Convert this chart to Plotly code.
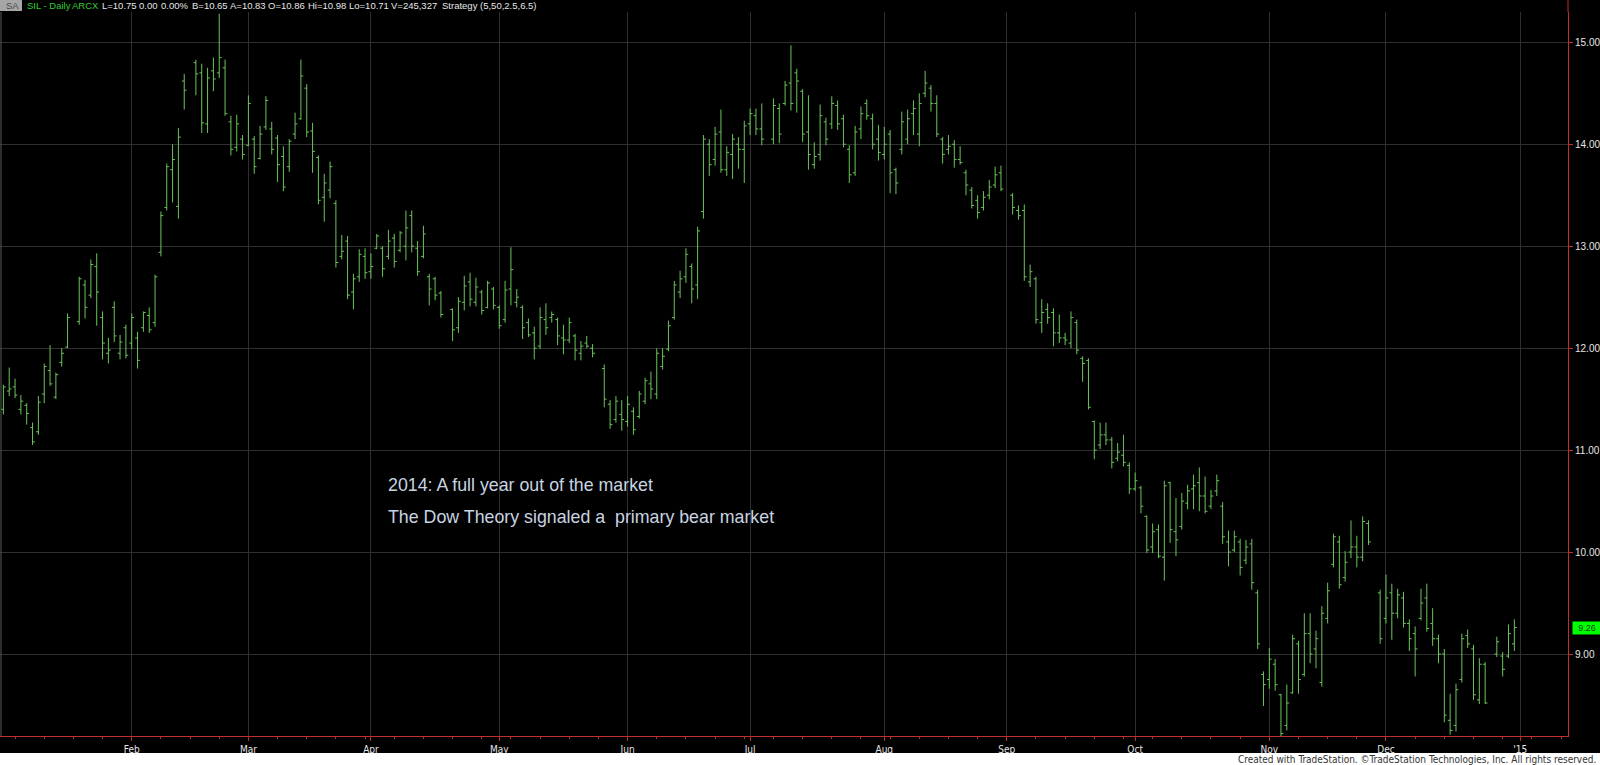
import pandas as pd
import plotly.graph_objects as go

# ---------------- data (SIL daily, 2014) ----------------
HOLIDAYS = ["2014-01-01", "2014-01-20", "2014-02-17", "2014-04-18", "2014-05-26",
            "2014-07-04", "2014-09-01", "2014-11-27", "2014-12-25"]

opens = [
    # Jan
    11.40, 11.58, 11.62, 11.40, 11.44, 11.22, 11.18, 11.55, 11.78, 11.52, 11.86, 12.01, 12.26, 12.62, 12.52, 12.80, 12.30, 11.95, 12.40, 11.95, 12.20,
    # Feb
    12.05, 12.10, 12.20, 12.32, 12.25, 12.94, 13.38, 13.75, 13.39, 14.62, 14.80, 14.70, 14.20, 14.72, 14.70, 14.75, 14.22, 13.97, 14.05,
    # Mar
    13.99, 14.05, 13.86, 14.17, 14.15, 14.06, 13.88, 13.78, 14.10, 14.25, 14.55, 14.13, 13.87, 13.48, 13.55, 13.42, 12.90, 13.05, 12.55, 12.70, 12.90,
    # Apr
    12.75, 12.98, 12.98, 12.90, 13.08, 12.96, 13.00, 13.30, 12.98, 12.90, 12.70, 12.68, 12.54, 12.38, 12.20, 12.45, 12.65, 12.45, 12.55, 12.40, 12.58,
    # May
    12.40, 12.28, 12.58, 12.45, 12.40, 12.25, 12.15, 12.02, 12.28, 12.30, 12.28, 12.10, 12.08, 12.12, 11.95, 12.05, 12.00, 11.80, 11.45, 11.30, 11.35,
    # Jun
    11.28, 11.38, 11.33, 11.48, 11.65, 11.55, 11.82, 11.99, 12.30, 12.55, 12.70, 12.80, 12.62, 13.34, 14.00, 13.85, 14.12, 13.75, 13.90, 14.00, 13.95,
    # Jul
    14.20, 14.28, 14.15, 14.05, 14.35, 14.40, 14.60, 14.70, 14.52, 14.12, 13.80, 13.90, 14.22, 14.20, 14.38, 14.25, 13.95, 13.72, 14.15, 14.40, 14.25, 14.05,
    # Aug
    13.90, 14.10, 13.75, 13.95, 14.05, 14.30, 14.10, 14.50, 14.55, 14.40, 14.05, 13.95, 14.00, 13.85, 13.72, 13.55, 13.45, 13.38, 13.50, 13.60, 13.72,
    # Sep
    13.50, 13.35, 13.35, 12.65, 12.68, 12.25, 12.38, 12.35, 12.15, 12.10, 12.05, 12.25, 11.90, 11.88, 11.28, 11.05, 11.15, 11.10, 10.92, 10.95, 10.85,
    # Oct
    10.62, 10.63, 10.35, 10.05, 10.22, 9.95, 10.68, 10.20, 10.25, 10.48, 10.62, 10.68, 10.55, 10.45, 10.60, 10.45, 10.10, 10.02, 10.10, 9.92, 10.08, 9.60, 8.80,
    # Nov
    8.75, 8.90, 8.60, 8.30, 8.62, 9.10, 8.80, 9.20, 9.05, 8.72, 9.35, 9.88, 10.10, 9.75, 10.00, 10.05, 9.95, 10.28, 9.60,
    # Dec
    9.35, 9.60, 9.40, 9.55, 9.30, 9.20, 9.35, 9.55, 9.30, 9.15, 9.00, 8.35, 8.30, 8.75, 9.18, 9.05, 8.55, 8.90, 9.00, 8.98, 8.98, 9.10,
]

highs = [
    11.64, 11.81, 11.70, 11.54, 11.46, 11.27, 11.53, 11.85, 12.03, 11.76, 12.00, 12.34, 12.70, 12.67, 12.87, 12.93, 12.36, 12.10, 12.46, 12.13, 12.23,
    12.34, 12.16, 12.36, 12.40, 12.72, 13.34, 13.81, 14.00, 14.16, 14.69, 14.83, 14.79, 14.75, 14.85, 15.28, 14.83, 14.28, 14.29, 14.09,
    14.48, 14.08, 14.18, 14.47, 14.22, 14.09, 13.98, 14.05, 14.31, 14.83, 14.59, 14.21, 13.89, 13.71, 13.83, 13.45, 13.11, 13.10, 12.73, 12.97, 12.98,
    12.93, 13.12, 13.00, 13.16, 13.12, 13.15, 13.35, 13.35, 13.05, 13.20, 12.73, 12.70, 12.56, 12.39, 12.50, 12.71, 12.74, 12.69, 12.57, 12.66, 12.60,
    12.42, 12.66, 12.99, 12.58, 12.42, 12.29, 12.21, 12.40, 12.44, 12.36, 12.30, 12.23, 12.30, 12.14, 12.07, 12.12, 12.04, 11.84, 11.49, 11.53, 11.49,
    11.53, 11.42, 11.58, 11.71, 11.77, 12.00, 12.00, 12.27, 12.66, 12.76, 12.98, 12.83, 13.19, 14.09, 14.05, 14.17, 14.34, 13.98, 14.10, 14.07, 14.23,
    14.35, 14.35, 14.40, 14.45, 14.40, 14.62, 14.97, 14.74, 14.54, 14.48, 14.02, 14.39, 14.26, 14.47, 14.43, 14.29, 13.99, 14.18, 14.37, 14.44, 14.30, 14.19,
    14.17, 14.14, 13.77, 14.32, 14.34, 14.43, 14.50, 14.72, 14.58, 14.48, 14.07, 14.09, 14.04, 13.98, 13.75, 13.58, 13.50, 13.54, 13.65, 13.78, 13.79,
    13.52, 13.40, 13.41, 12.82, 12.70, 12.48, 12.44, 12.39, 12.33, 12.15, 12.36, 12.28, 11.92, 11.90, 11.29, 11.27, 11.27, 11.13, 11.07, 11.15, 10.88,
    10.78, 10.65, 10.36, 10.28, 10.27, 10.70, 10.69, 10.53, 10.58, 10.66, 10.76, 10.83, 10.74, 10.61, 10.76, 10.49, 10.21, 10.21, 10.13, 10.12, 10.13, 9.63, 8.83,
    9.06, 8.95, 8.61, 8.70, 9.19, 9.13, 9.40, 9.40, 9.23, 9.47, 9.70, 10.18, 10.16, 10.01, 10.31, 10.16, 10.35, 10.31, 9.63,
    9.78, 9.69, 9.64, 9.61, 9.34, 9.27, 9.64, 9.69, 9.45, 9.19, 9.05, 8.61, 8.71, 9.20, 9.24, 9.09, 8.96, 8.92, 9.17, 9.02, 9.29, 9.34,
]

lows = [
    11.35, 11.53, 11.51, 11.35, 11.25, 11.05, 11.15, 11.46, 11.63, 11.50, 11.82, 12.00, 12.23, 12.29, 12.49, 12.22, 11.89, 11.85, 12.06, 11.89, 11.90,
    11.99, 11.80, 12.16, 12.15, 12.21, 12.90, 13.35, 13.43, 13.27, 14.34, 14.48, 14.11, 14.11, 14.52, 14.65, 14.28, 13.89, 13.93, 13.85,
    13.98, 13.71, 13.85, 14.14, 13.90, 13.63, 13.54, 13.73, 14.05, 14.24, 14.07, 13.72, 13.41, 13.24, 13.47, 12.79, 12.87, 12.48, 12.38, 12.65, 12.68,
    12.68, 12.97, 12.70, 12.87, 12.79, 12.94, 12.86, 12.94, 12.71, 12.88, 12.42, 12.47, 12.30, 12.07, 12.15, 12.37, 12.41, 12.41, 12.33, 12.39, 12.38,
    12.19, 12.25, 12.42, 12.40, 12.09, 12.11, 11.89, 11.99, 12.13, 12.25, 12.03, 11.94, 12.05, 11.88, 11.88, 12.00, 11.91, 11.42, 11.21, 11.27, 11.19,
    11.23, 11.15, 11.31, 11.45, 11.50, 11.50, 11.79, 11.97, 12.28, 12.49, 12.64, 12.44, 12.48, 13.27, 13.69, 13.79, 13.72, 13.69, 13.66, 13.76, 13.62,
    14.09, 14.09, 13.99, 14.00, 14.01, 14.38, 14.33, 14.31, 14.02, 13.75, 13.76, 13.84, 13.99, 14.15, 14.14, 13.97, 13.62, 13.69, 14.05, 14.24, 13.95, 13.84,
    13.85, 13.52, 13.51, 13.90, 14.00, 14.09, 13.98, 14.46, 14.32, 14.07, 13.81, 13.90, 13.77, 13.80, 13.50, 13.37, 13.27, 13.35, 13.46, 13.57, 13.54,
    13.31, 13.26, 12.66, 12.60, 12.24, 12.15, 12.24, 12.02, 12.05, 12.03, 12.00, 11.94, 11.67, 11.40, 10.91, 11.01, 11.05, 10.82, 10.89, 10.84, 10.57,
    10.60, 10.38, 9.99, 9.99, 9.94, 9.72, 10.09, 9.96, 10.22, 10.42, 10.42, 10.40, 10.38, 10.42, 10.55, 10.08, 9.86, 10.00, 9.77, 9.88, 9.63, 9.05, 8.49,
    8.66, 8.64, 8.19, 8.25, 8.61, 8.61, 8.78, 8.91, 8.86, 8.68, 9.30, 9.85, 9.64, 9.71, 9.94, 9.85, 9.91, 10.07, 9.10,
    9.30, 9.14, 9.35, 9.26, 9.03, 8.78, 9.33, 9.22, 9.08, 8.91, 8.33, 8.21, 8.24, 8.72, 9.06, 8.55, 8.51, 8.51, 8.97, 8.78, 8.96, 9.03,
]

closes = [
    11.62, 11.60, 11.54, 11.48, 11.36, 11.08, 11.47, 11.82, 11.65, 11.74, 11.95, 12.30, 12.68, 12.40, 12.82, 12.55, 12.05, 11.98, 12.12, 12.06, 11.93,
    12.30, 11.88, 12.35, 12.18, 12.70, 13.30, 13.78, 13.85, 14.07, 14.53, 14.69, 14.21, 14.65, 14.64, 14.85, 14.30, 13.95, 14.20, 13.90,
    14.40, 13.78, 14.10, 14.43, 13.95, 13.80, 13.58, 14.03, 14.20, 14.67, 14.12, 13.93, 13.45, 13.62, 13.78, 12.84, 12.95, 12.52, 12.68, 12.92, 12.74,
    12.80, 13.10, 12.78, 13.05, 12.85, 13.13, 13.18, 13.00, 12.75, 13.12, 12.58, 12.52, 12.33, 12.18, 12.46, 12.61, 12.48, 12.60, 12.37, 12.64, 12.42,
    12.22, 12.57, 12.77, 12.50, 12.20, 12.13, 12.00, 12.30, 12.20, 12.33, 12.12, 12.08, 12.25, 11.98, 12.02, 12.02, 11.95, 11.50, 11.25, 11.48, 11.30,
    11.45, 11.20, 11.55, 11.68, 11.60, 11.95, 11.92, 12.22, 12.62, 12.68, 12.92, 12.58, 13.15, 14.05, 13.80, 14.10, 13.75, 13.92, 14.05, 13.95, 14.18,
    14.30, 14.15, 14.05, 14.38, 14.10, 14.58, 14.40, 14.62, 14.10, 13.90, 13.88, 14.28, 14.05, 14.40, 14.20, 14.00, 13.70, 14.12, 14.30, 14.28, 14.00, 13.92,
    14.00, 13.72, 13.62, 14.22, 14.25, 14.35, 14.40, 14.60, 14.40, 14.10, 13.90, 13.98, 13.85, 13.82, 13.60, 13.40, 13.33, 13.48, 13.58, 13.70, 13.56,
    13.38, 13.30, 12.70, 12.75, 12.28, 12.35, 12.30, 12.15, 12.10, 12.08, 12.30, 11.98, 11.85, 11.42, 11.00, 11.15, 11.10, 10.88, 10.98, 10.88, 10.62,
    10.70, 10.45, 10.02, 10.20, 9.96, 10.65, 10.22, 10.12, 10.50, 10.60, 10.65, 10.55, 10.40, 10.55, 10.70, 10.15, 10.00, 10.15, 9.85, 10.05, 9.70, 9.10, 8.70,
    8.95, 8.70, 8.22, 8.52, 9.15, 8.75, 9.20, 9.00, 9.15, 9.40, 9.62, 10.15, 9.68, 9.90, 10.05, 9.95, 10.30, 10.10, 9.15,
    9.55, 9.40, 9.58, 9.30, 9.15, 9.05, 9.50, 9.25, 9.15, 9.00, 8.40, 8.25, 8.65, 9.15, 9.10, 8.60, 8.90, 8.52, 9.12, 8.85, 9.20, 9.26,
]

MONTH_TICKS = ["2014-02-03", "2014-03-03", "2014-04-01", "2014-05-01", "2014-06-02", "2014-07-01",
               "2014-08-01", "2014-09-01", "2014-10-01", "2014-11-03", "2014-12-01", "2015-01-01"]
MONTH_LABELS = ["Feb", "Mar", "Apr", "May", "Jun", "Jul", "Aug", "Sep", "Oct", "Nov", "Dec", "'15"]
PRICE_TICKS = [9, 10, 11, 12, 13, 14, 15]
LAST_PRICE = 9.26

HEADER_GREEN = [("SIL - Daily", 25), ("ARCX", 70)]
HEADER_WHITE = [("L=10.75", 100), ("0.00", 137), ("0.00%", 159), ("B=10.65", 190), ("A=10.83", 228),
                ("O=10.86", 266), ("Hi=10.98", 306), ("Lo=10.71", 347), ("V=245,327", 389),
                ("Strategy (5,50,2.5,6.5)", 440)]

dates = [d for d in pd.bdate_range("2014-01-01", "2014-12-31") if d.strftime("%Y-%m-%d") not in HOLIDAYS]
assert len(dates) == len(opens) == len(highs) == len(lows) == len(closes)
mondays = [d.strftime("%Y-%m-%d") for d in pd.date_range("2014-01-06", "2015-01-12", freq="W-MON")]

# ---------------- layout helpers ----------------
W, H = 1600, 765
PL, PR, PT, PB = 0, 1568, 12, 736
def px(x):
    return (x - PL) / (PR - PL)
def py(y):
    return (PB - y) / (PB - PT)

GREEN = "#6cc45c"
RED = "#c0302a"
GRID = "#2f2f2f"
NARROW = "Liberation Sans Narrow, DejaVu Sans Condensed, Liberation Sans, Arial"
SANS = "Liberation Sans, Arial, sans-serif"

fig = go.Figure(go.Ohlc(
    x=dates, open=opens, high=highs, low=lows, close=closes,
    increasing=dict(line=dict(color=GREEN, width=1)),
    decreasing=dict(line=dict(color=GREEN, width=1)),
    tickwidth=0.4, hoverinfo="skip", showlegend=False,
))

fig.update_layout(
    width=W, height=H,
    margin=dict(l=PL, r=W - PR, t=PT, b=H - PB, pad=0),
    paper_bgcolor="black", plot_bgcolor="black",
    hovermode=False, showlegend=False,
    xaxis=dict(
        type="date",
        range=["2014-01-01 10:05", "2015-01-13 04:48"],
        rangebreaks=[dict(bounds=["sat", "mon"])],
        rangeslider=dict(visible=False),
        tickmode="array", tickvals=MONTH_TICKS, ticktext=MONTH_LABELS,
        showgrid=True, gridcolor=GRID, gridwidth=1,
        showline=True, linecolor=RED, linewidth=1,
        ticks="outside", ticklen=4, tickcolor=RED,
        tickfont=dict(family=NARROW, size=10, color="#e6e6e6"),
        minor=dict(tickmode="array", tickvals=mondays, ticks="outside", ticklen=2,
                   tickcolor=RED, showgrid=False),
        zeroline=False, fixedrange=True,
    ),
    yaxis=dict(
        side="right",
        range=[8.196, 15.297],
        tickmode="array", tickvals=PRICE_TICKS, tickformat=".2f",
        showgrid=True, gridcolor=GRID, gridwidth=1,
        showline=True, linecolor=RED, linewidth=1,
        ticks="outside", ticklen=4, tickcolor=RED,
        tickfont=dict(family=SANS, size=10, color="#e6e6e6"),
        zeroline=False, fixedrange=True,
    ),
)

shapes = [
    # right axis line extends into header band
    dict(type="line", xref="paper", yref="paper", x0=1, x1=1, y0=1, y1=py(0),
         line=dict(color=RED, width=1)),
    # left border
    dict(type="line", xref="paper", yref="paper", x0=px(1), x1=px(1), y0=0, y1=1,
         line=dict(color="#5a5a5a", width=1)),
    # "SA" box
    dict(type="rect", xref="paper", yref="paper", x0=px(0), x1=px(22), y0=py(11), y1=py(0),
         fillcolor="#a6a6a6", line=dict(width=0)),
    # white footer band
    dict(type="rect", xref="paper", yref="paper", x0=px(0), x1=px(W), y0=py(H), y1=py(753),
         fillcolor="white", line=dict(width=0)),
]
fig.update_layout(shapes=shapes)

ann = []
ann.append(dict(text="SA", xref="paper", yref="paper", x=px(4), y=py(6), xanchor="left", yanchor="middle",
                showarrow=False, font=dict(family=SANS, size=9.5, color="#4a4a4a")))
for t, x in HEADER_GREEN:
    ann.append(dict(text=t, xref="paper", yref="paper", x=px(x), y=py(6), xanchor="left", yanchor="middle",
                    showarrow=False, font=dict(family=SANS, size=9.5, color="#33cc33")))
for t, x in HEADER_WHITE:
    ann.append(dict(text=t, xref="paper", yref="paper", x=px(x), y=py(6), xanchor="left", yanchor="middle",
                    showarrow=False, font=dict(family=SANS, size=9.5, color="#e6e6e6")))

# commentary text
ann.append(dict(text="2014: A full year out of the market", xref="paper", yref="paper",
                x=px(386), y=py(485), xanchor="left", yanchor="middle", showarrow=False,
                font=dict(family=SANS, size=17.8, color="#c8d4e0")))
ann.append(dict(text="The Dow Theory signaled a&nbsp; primary bear market", xref="paper", yref="paper",
                x=px(386), y=py(517), xanchor="left", yanchor="middle", showarrow=False,
                font=dict(family=SANS, size=17.8, color="#c8d4e0")))

# last price marker
ann.append(dict(text=f"{LAST_PRICE:.2f}", xref="paper", yref="y", x=px(1572), y=LAST_PRICE,
                xanchor="left", yanchor="middle", showarrow=False, bgcolor="#00ff00",
                width=26, borderpad=1, font=dict(family=SANS, size=9, color="#1a3a1a")))

# footer
ann.append(dict(text="Created with TradeStation. ©TradeStation Technologies, Inc. All rights reserved.",
                xref="paper", yref="paper", x=px(1598), y=py(759), xanchor="right", yanchor="middle",
                showarrow=False, font=dict(family=NARROW, size=10, color="#333333")))

fig.update_layout(annotations=ann)

fig.write_html(
    "out.html",
    config={"displayModeBar": False, "staticPlot": True},
    post_script="document.body.style.margin='0px';document.body.style.overflow='hidden';",
)
